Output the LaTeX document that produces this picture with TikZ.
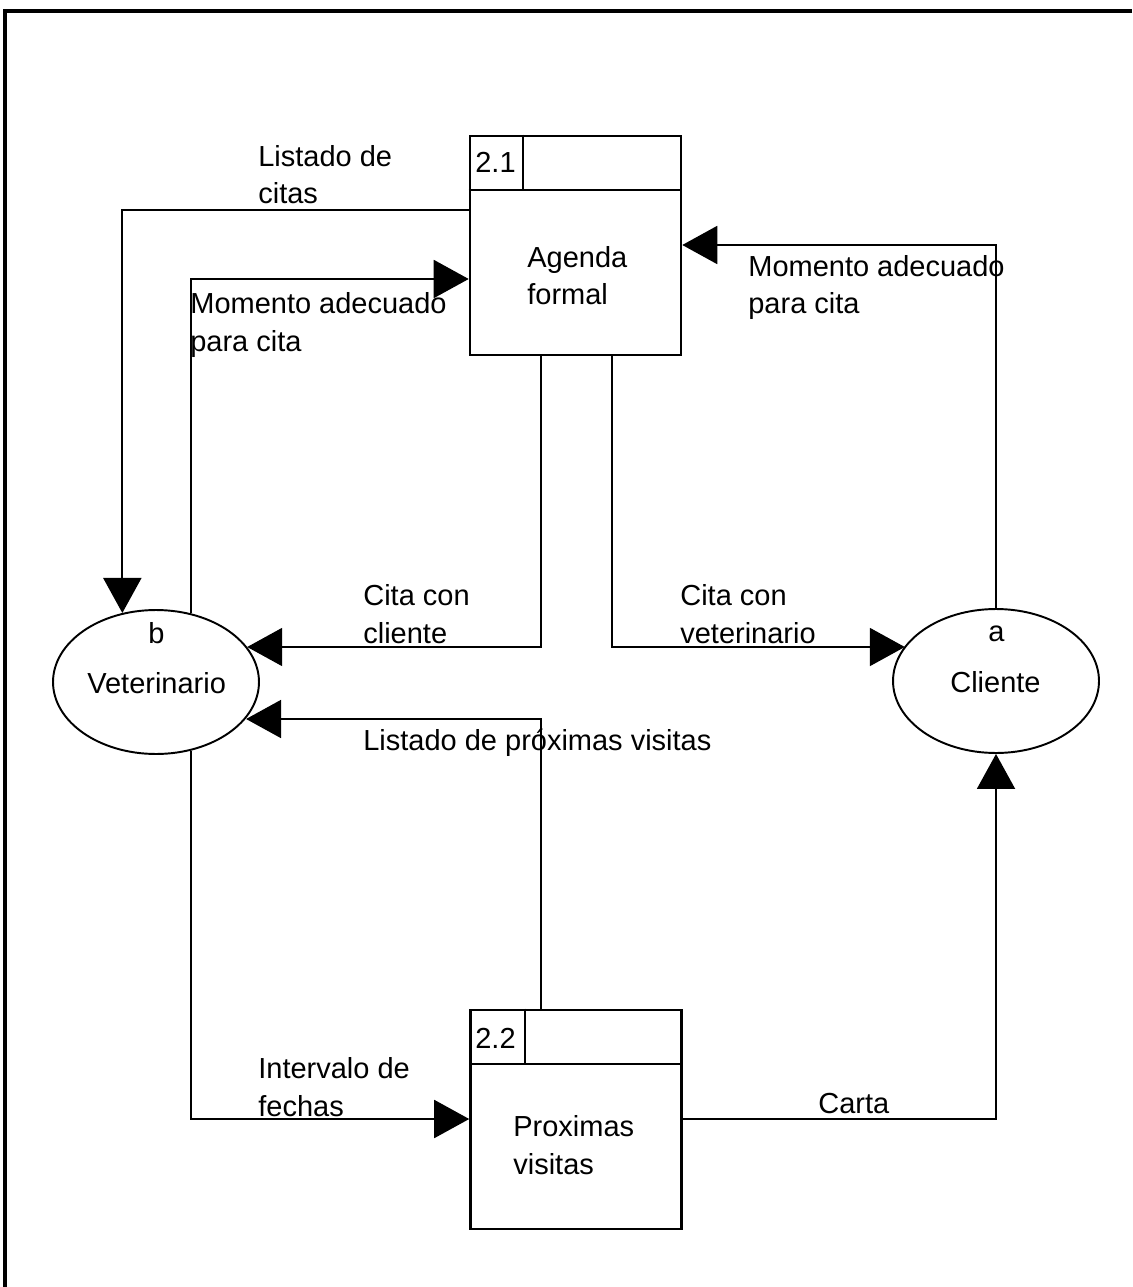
\documentclass[tikz,border=0pt]{standalone}
\usepackage{fontspec}
\setmainfont{Liberation Sans}
\usetikzlibrary{arrows.meta,shapes.geometric}
\begin{document}
\begin{tikzpicture}[x=0.02cm,y=-0.02cm,
  flow/.style={draw, line width=1.1pt, -{Triangle[length=0.7cm,width=0.76cm]}},
  process/.style={draw, line width=1.5pt, minimum width=4.22cm, minimum height=4.38cm, inner sep=0pt},
  entity/.style={draw, ellipse, line width=1.1pt, minimum width=4.12cm, minimum height=2.88cm, inner sep=0pt},
  lbl/.style={inner sep=0pt, anchor=base west, align=left, font=\fontsize{16.5pt}{21.6pt}\selectfont},
  divider/.style={line width=1.5pt},
]
\useasboundingbox (0,0) rectangle (1132,1287);

% page frame (top and left edges)
\draw[line width=1.8pt] (1132,11) -- (5,11) -- (5,1287);

% processes (label positions are given at the baseline of the last line)
\node[process] (p21) at (575.5,245.5) {};
\draw[divider] (p21.west |- 0,190) -- (p21.east |- 0,190);
\draw[divider] (p21.north -| 523,0) -- (523,190);
\node[lbl] (n21) at (475,173) {2.1};
\node[lbl] (t21) at (527,305) {Agenda\\formal};

\node[process] (p22) at (576,1119.5) {};
\draw[divider] (p22.west |- 0,1064) -- (p22.east |- 0,1064);
\draw[divider] (p22.north -| 525,0) -- (525,1064);
\node[lbl] (n22) at (475,1048) {2.2};
\node[lbl] (t22) at (513,1174) {Proximas\\visitas};

% external entities
\node[entity] (vet) at (156,682) {};
\node[lbl] (vetid) at (148,643) {b};
\node[lbl] (vetname) at (87,693) {Veterinario};

\node[entity] (cli) at (996,681) {};
\node[lbl] (cliid) at (988,641) {a};
\node[lbl] (cliname) at (950,692) {Cliente};

% data flows
\draw[flow] (p21.west |- 0,210) -| (vet.116.6);
\draw[flow] (vet.63.4) |- (p21.west |- 0,279);
\draw[flow] (cli.north) |- (p21.east |- 0,245);
\draw[flow] (p21.south -| 541,0) |- (vet.21.3 |- 0,647);
\draw[flow] (p21.south -| 612,0) |- (cli.159.7 |- 0,647);
\draw[flow] (p22.north -| 541,0) |- (vet.-22.8 |- 0,719);
\draw[flow] (vet.-63.4) |- (p22.west |- 0,1119);
\draw[flow] (p22.east |- 0,1119) -| (cli.south);

% flow labels
\node[lbl] (l1) at (258,204) {Listado de\\citas};
\node[lbl] (l2) at (190,351) {Momento adecuado\\para cita};
\node[lbl] (l3) at (748,314) {Momento adecuado\\para cita};
\node[lbl] (l4) at (363,643) {Cita con\\cliente};
\node[lbl] (l5) at (680,643) {Cita con\\veterinario};
\node[lbl] (l6) at (363,750) {Listado de próximas visitas};
\node[lbl] (l7) at (258,1116) {Intervalo de\\fechas};
\node[lbl] (l8) at (818,1113) {Carta};
\end{tikzpicture}
\end{document}
